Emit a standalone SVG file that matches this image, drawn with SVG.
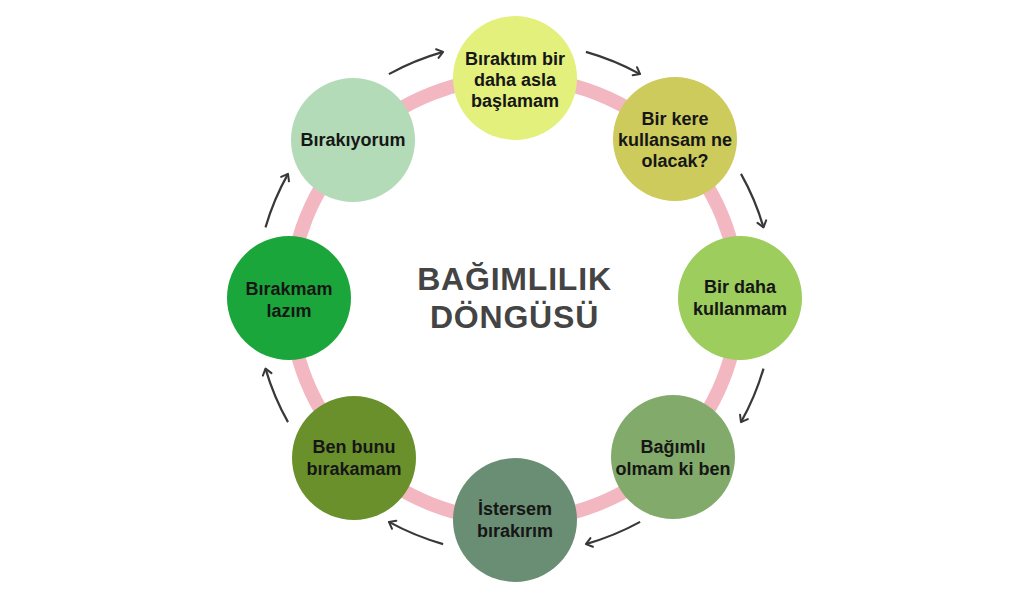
<svg xmlns="http://www.w3.org/2000/svg" width="1024" height="600" viewBox="0 0 1024 600">
<style>
.lbl{font-family:"Liberation Sans",Arial,sans-serif;font-weight:bold;font-size:18px;fill:#161616;text-anchor:middle}
.title{font-family:"Liberation Sans",Arial,sans-serif;font-weight:bold;font-size:32px;fill:#444444;text-anchor:middle;letter-spacing:0.8px}
.arr{fill:none;stroke:#383838;stroke-width:2.2;marker-end:url(#ah)}
</style>
<defs>
<marker id="ah" markerUnits="userSpaceOnUse" markerWidth="12" markerHeight="12" refX="8" refY="6" orient="auto">
<path d="M2,1.5 L8,6 L2,10.5" fill="none" stroke="#383838" stroke-width="2" stroke-linecap="round" stroke-linejoin="round"/>
</marker>
</defs>
<rect width="1024" height="600" fill="#ffffff"/>
<ellipse cx="514.5" cy="299" rx="224" ry="221" fill="none" stroke="#f3b7c2" stroke-width="14"/>
<g id="connectors">
<path class="arr" d="M388.9,74.1 A259,256 0 0 1 443.1,51.9"/>
<path class="arr" d="M585.9,51.9 A259,256 0 0 1 640.1,74.1"/>
<path class="arr" d="M741,173.9 A259,256 0 0 1 763.5,227.4"/>
<path class="arr" d="M763.5,368.6 A259,256 0 0 1 741,422.1"/>
<path class="arr" d="M640.1,521.9 A259,256 0 0 1 585.9,544.1"/>
<path class="arr" d="M443.1,544.1 A259,256 0 0 1 388.9,521.9"/>
<path class="arr" d="M288,422.1 A259,256 0 0 1 265.5,368.6"/>
<path class="arr" d="M265.5,227.4 A259,256 0 0 1 288,173.9"/>
</g>
<g id="n1">
<circle cx="515" cy="78" r="62" fill="#e3f07c"/>
<text class="lbl" x="515" y="65">Bıraktım bir</text>
<text class="lbl" x="515" y="86">daha asla</text>
<text class="lbl" x="515" y="107">başlamam</text>
</g>
<g id="n2">
<circle cx="675" cy="139" r="62" fill="#cdcb5c"/>
<text class="lbl" x="675" y="125">Bir kere</text>
<text class="lbl" x="675" y="146">kullansam ne</text>
<text class="lbl" x="675" y="167">olacak?</text>
</g>
<g id="n3">
<circle cx="740" cy="298" r="62" fill="#9ccd5d"/>
<text class="lbl" x="740" y="293">Bir daha</text>
<text class="lbl" x="740" y="315">kullanmam</text>
</g>
<g id="n4">
<circle cx="673" cy="457" r="62" fill="#82aa6a"/>
<text class="lbl" x="673" y="453">Bağımlı</text>
<text class="lbl" x="673" y="475">olmam ki ben</text>
</g>
<g id="n5">
<circle cx="515" cy="520" r="62" fill="#6a8e74"/>
<text class="lbl" x="515" y="515">İstersem</text>
<text class="lbl" x="515" y="537">bırakırım</text>
</g>
<g id="n6">
<circle cx="354" cy="458" r="62" fill="#6a902c"/>
<text class="lbl" x="354" y="453">Ben bunu</text>
<text class="lbl" x="354" y="475">bırakamam</text>
</g>
<g id="n7">
<circle cx="289" cy="298" r="62" fill="#1aa63b"/>
<text class="lbl" x="289" y="295">Bırakmam</text>
<text class="lbl" x="289" y="317">lazım</text>
</g>
<g id="n8">
<circle cx="353" cy="140" r="62" fill="#b3dbb8"/>
<text class="lbl" x="353" y="146">Bırakıyorum</text>
</g>
<g id="title">
<text class="title" x="514.5" y="290">BAĞIMLILIK</text>
<text class="title" x="514.5" y="328">DÖNGÜSÜ</text>
</g>
</svg>
